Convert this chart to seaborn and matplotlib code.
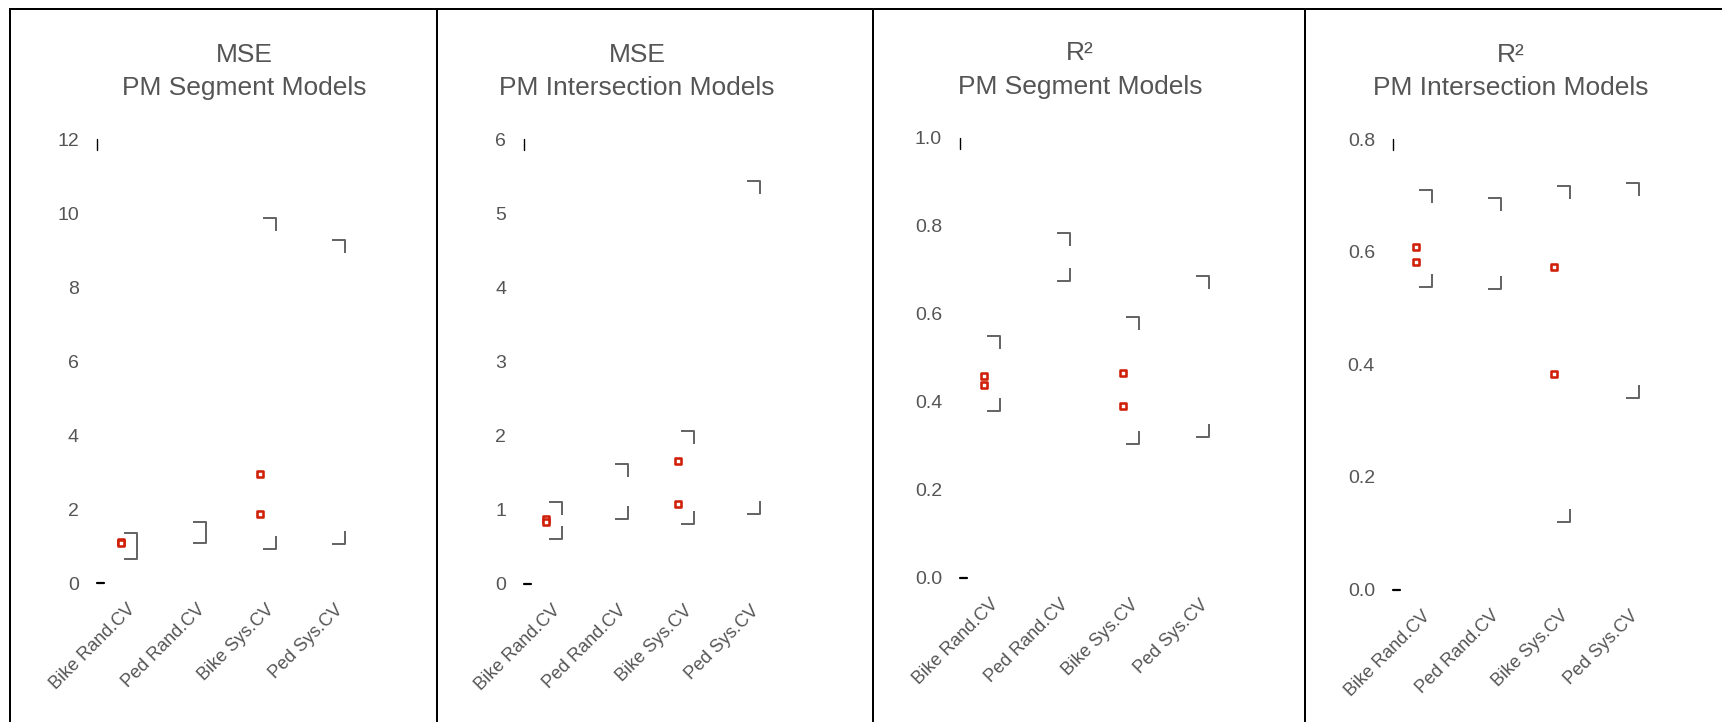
#!/usr/bin/env python3
import numpy as np
import pandas as pd
import matplotlib
matplotlib.use("Agg")
import matplotlib.pyplot as plt
import seaborn as sns
from matplotlib.path import Path
from matplotlib.markers import MarkerStyle
from matplotlib.lines import Line2D

# Data
categories = ["Bike Rand.CV", "Ped Rand.CV", "Bike Sys.CV", "Ped Sys.CV"]

# range brackets (upper / lower) per category
mse_seg_upper = [1.35, 1.65, 9.86, 9.27]
mse_seg_lower = [0.65, 1.08, 0.92, 1.05]
mse_int_upper = [1.10, 1.62, 2.06, 5.44]
mse_int_lower = [0.61, 0.88, 0.81, 0.94]
r2_seg_upper = [0.549, 0.785, 0.594, 0.687]
r2_seg_lower = [0.379, 0.674, 0.304, 0.320]
r2_int_upper = [0.709, 0.695, 0.716, 0.721]
r2_int_lower = [0.537, 0.533, 0.120, 0.340]

# observed values (red squares)
point_cats = ["Bike Rand.CV", "Bike Rand.CV", "Bike Sys.CV", "Bike Sys.CV"]
mse_seg_points = [1.12, 1.07, 2.95, 1.86]
mse_int_points = [0.88, 0.83, 1.66, 1.08]
r2_seg_points = [0.460, 0.438, 0.467, 0.390]
r2_int_points = [0.608, 0.581, 0.572, 0.382]

titles = ["MSE\nPM Segment Models", "MSE\nPM Intersection Models",
          "R²\nPM Segment Models", "R²\nPM Intersection Models"]
y_max = [12, 6, 1.0, 0.8]
y_step = [2, 1, 0.2, 0.2]
y_fmt = ["{:.0f}", "{:.0f}", "{:.1f}", "{:.1f}"]

uppers = [mse_seg_upper, mse_int_upper, r2_seg_upper, r2_int_upper]
lowers = [mse_seg_lower, mse_int_lower, r2_seg_lower, r2_int_lower]
points = [mse_seg_points, mse_int_points, r2_seg_points, r2_int_points]

# Layout in pixels: axis x, category spacing, first category x, y of 0, y of max, title centre
layout = [(97, 69.3, 121, 583, 139, 244),
          (524, 67.0, 546, 584, 139, 637),
          (960, 69.7, 984, 578, 138, 1080),
          (1393, 69.3, 1416, 589.5, 139, 1511)]

W, H, DPI = 1722, 722, 100
TEXT = "#555555"
GREY = "#666666"
RED = "#d0200a"

sns.set_style("white")
plt.rcParams["font.family"] = ["Liberation Sans", "DejaVu Sans"]

fig = plt.figure(figsize=(W / DPI, H / DPI), dpi=DPI)

# bracket markers: horizontal at the value, vertical leg of fixed pixel length
top_path = Path([(3, 0), (16, 0), (16, -13)], [Path.MOVETO, Path.LINETO, Path.LINETO])
bot_path = Path([(3, 0), (16, 0), (16, 13)], [Path.MOVETO, Path.LINETO, Path.LINETO])
br_size = (2 * 16 * 72 / DPI) ** 2
px = 72 / DPI

for i in range(4):
    left, sp, c0, y0, ytop, tcx = layout[i]
    width = 2 * (tcx - left)
    ax = fig.add_axes([left / W, 1 - y0 / H, width / W, (y0 - ytop) / H])
    xl = -(c0 - left) / sp
    br = pd.DataFrame({"x": range(len(categories)), "upper": uppers[i], "lower": lowers[i]})
    pts = pd.DataFrame({"x": [categories.index(c) for c in point_cats], "value": points[i]})

    sns.scatterplot(data=br, x="x", y="upper", marker=MarkerStyle(top_path), s=br_size,
                    facecolor="none", edgecolor=GREY, linewidth=2 * px, ax=ax, clip_on=False)
    sns.scatterplot(data=br, x="x", y="lower", marker=MarkerStyle(bot_path), s=br_size,
                    facecolor="none", edgecolor=GREY, linewidth=2 * px, ax=ax, clip_on=False)
    sns.scatterplot(data=pts, x="x", y="value", marker="s", s=(6.5 * px) ** 2,
                    facecolor="white", edgecolor=RED, linewidth=2.6 * px, ax=ax, clip_on=False,
                    zorder=3)

    ax.set_xlim(xl, xl + width / sp)
    ax.set_ylim(0, y_max[i])
    ticks = np.arange(0, y_max[i] + 1e-9, y_step[i])
    ax.set_yticks(ticks)
    ax.set_yticklabels([y_fmt[i].format(t) for t in ticks])
    # label anchors sit a few pixels right of the category centre
    ax.set_xticks(np.arange(len(categories)) + 6 / sp)
    ax.set_xticklabels(categories, rotation=45, ha="right", rotation_mode="anchor")
    ax.tick_params(axis="y", length=0, pad=18 * px, labelsize=14, labelcolor=TEXT)
    ax.tick_params(axis="x", length=0, pad=18 * px, labelsize=13, labelcolor=TEXT)
    ax.set_xlabel("")
    ax.set_ylabel("")
    for s in ax.spines.values():
        s.set_visible(False)
    ax.patch.set_alpha(0)

    # little range marks at the top and bottom of the value axis
    h_px = y0 - ytop
    ax.plot([0, 0], [1, 1 - 11 / h_px], transform=ax.transAxes, color="black",
            lw=1.0, clip_on=False)
    ax.plot([0, 7 / width], [0, 0], transform=ax.transAxes, color="black",
            lw=1.6, clip_on=False)

    ax.set_title(titles[i], fontsize=19, color=TEXT, pad=44 * px, linespacing=1.5)

# table borders
def fline(x0, y0, x1, y1):
    fig.add_artist(Line2D([x0 / W, x1 / W], [1 - y0 / H, 1 - y1 / H], color="black",
                          lw=2 * px, solid_capstyle="butt"))

fline(8.5, 9, W, 9)
for xb in [9.5, 436.5, 873, 1305]:
    fline(xb, 8, xb, H)

fig.savefig("out.png", dpi=DPI, facecolor="white")
